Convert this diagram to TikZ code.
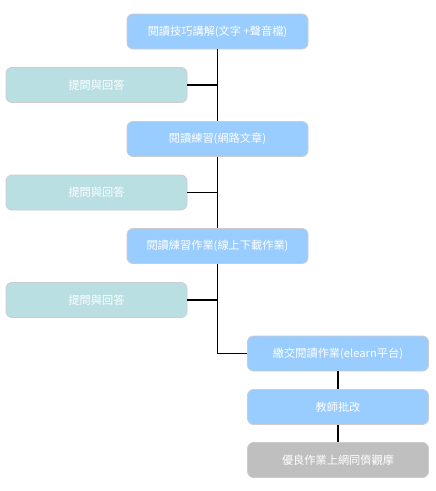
\documentclass[tikz,border=0pt]{standalone}
\usepackage{fontspec}
\newfontfamily\cjk{Noto Sans CJK TC}
\begin{document}
\begin{tikzpicture}[x=1pt,y=-1pt,
  box/.style={draw=black!20, line width=0.8pt, rounded corners=6pt, minimum width=181pt, minimum height=35pt, inner sep=0pt, text=white, font=\cjk\fontsize{11.2}{13}\selectfont},
  mainbox/.style={box, fill=blueA},
  sidebox/.style={box, fill=tealA},
  greybox/.style={box, fill=greyA},
  link/.style={draw=black, line width=1.9pt}]
\definecolor{blueA}{HTML}{99CCFF}
\definecolor{tealA}{HTML}{B9DFE3}
\definecolor{greyA}{HTML}{BFBFBF}
\useasboundingbox (0,0) rectangle (436,491);
\node[mainbox] (m1) at (217.5,31.5) {閱讀技巧講解(文字 +聲音檔)};
\node[sidebox] (s1) at (96.5,85) {提問與回答};
\node[mainbox] (m2) at (217.5,139) {閱讀練習(網路文章)};
\node[sidebox] (s2) at (96.5,192.5) {提問與回答};
\node[mainbox] (m3) at (217.5,246) {閱讀練習作業(線上下載作業)};
\node[sidebox] (s3) at (96.5,300) {提問與回答};
\node[mainbox] (m4) at (338,353.5) {繳交閱讀作業(elearn平台)};
\node[mainbox] (m5) at (338,407) {教師批改};
\node[greybox] (m6) at (338,460) {優良作業上網同儕觀摩};
\coordinate (c1) at (217.5,85);
\coordinate (c2) at (217.5,192.5);
\coordinate (c3) at (217.5,300);
\coordinate (c4) at (217.5,353.5);
\draw[link] (m1.south) -- (m2.north);
\draw[link] (m2.south) -- (m3.north);
\draw[link] (m3.south) -- (c4) -- (m4.west);
\draw[link] (s1.east) -- (c1);
\draw[link] (s2.east) -- (c2);
\draw[link] (s3.east) -- (c3);
\draw[link] (m4.south) -- (m5.north);
\draw[link] (m5.south) -- (m6.north);
\end{tikzpicture}
\end{document}
